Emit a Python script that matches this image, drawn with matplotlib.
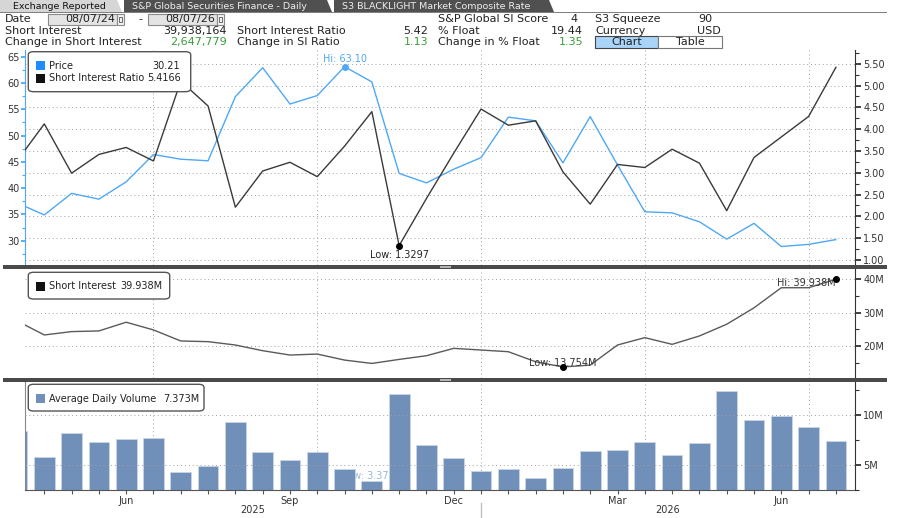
import numpy as np
import matplotlib
matplotlib.use("Agg")
import matplotlib.pyplot as plt
import matplotlib.transforms as mtransforms
from matplotlib.patches import Rectangle, FancyBboxPatch, Polygon

# ---------------- DATA ----------------
# semi-monthly observations, index -1 .. 29 (first one is partly off-chart)
obs_idx = list(range(-1, 30))

price = [37.2, 34.9, 39.0, 37.9, 41.2, 46.4, 45.5, 45.2, 57.4, 62.9, 56.0,
         57.6, 63.1, 60.2, 42.8, 41.0, 43.6, 45.8, 53.5, 52.8, 44.8, 53.6,
         44.4, 35.5, 35.3, 33.6, 30.3, 33.3, 28.9, 29.3, 30.21]

si_ratio = [3.27, 4.12, 2.99, 3.42, 3.58, 3.27, 5.10, 4.53, 2.21, 3.04, 3.24,
            2.91, 3.61, 4.40, 1.3297, 2.41, 3.45, 4.46, 4.09, 4.19, 3.02, 2.28,
            3.19, 3.12, 3.54, 3.22, 2.13, 3.35, 3.82, 4.29, 5.4166]

short_interest = [27.5, 23.3, 24.3, 24.5, 27.1, 24.8, 21.5, 21.3, 20.3, 18.6,
                  17.3, 17.6, 15.8, 14.8, 16.0, 17.1, 19.3, 18.8, 18.3, 15.3,
                  13.754, 14.3, 20.3, 22.5, 20.5, 23.0, 26.5, 31.4, 37.4, 37.4,
                  39.938]

avg_volume = [8.35, 5.79, 8.19, 7.27, 7.53, 7.70, 4.30, 4.84, 9.28, 6.28, 5.49,
              6.28, 4.60, 3.37, 12.1, 7.01, 5.63, 4.34, 4.57, 3.65, 4.64, 6.38,
              6.51, 7.27, 5.95, 7.20, 12.37, 9.47, 9.93, 8.79, 7.373]

month_labels = ["Jun", "Sep", "Dec", "Mar", "Jun"]
month_pos = [3, 9, 15, 21, 27]
quarter_pos = [4, 10, 16, 22, 28]
year_labels = ["2025", "2026"]
year_break = 16

header_rows = [
    [("Short Interest", "39,938,164", False), ("Short Interest Ratio", "5.42", False),
     ("% Float", "19.44", False), ("Currency", "USD", False)],
    [("Change in Short Interest", "2,647,779", True), ("Change in SI Ratio", "1.13", True),
     ("Change in % Float", "1.35", True)],
]
# --------------------------------------

W, H = 900, 518
BLUE = "#4ea8f7"
BLUE_SQ = "#1e8cff"
DARK = "#333333"
BAR = "#7190b9"
GREEN = "#3a9d3a"
GRID = "#a0a0a0"
FS = 7
HFS = 8

x = np.array(obs_idx)
XLIM = (-0.707, 29.7)


def fx(px):
    return px / W


def fy(py):
    return 1 - py / H


def ftext(px, py, s, **kw):
    kw.setdefault("va", "center")
    kw.setdefault("fontsize", HFS)
    kw.setdefault("color", "#222222")
    return fig.text(fx(px), fy(py), s, **kw)


def frect(x0, y0, x1, y1, **kw):
    r = Rectangle((fx(x0), fy(y1)), (x1 - x0) / W, (y1 - y0) / H,
                  transform=fig.transFigure, **kw)
    fig.patches.append(r)
    return r


def add_ax(y0, y1):
    return fig.add_axes([fx(25), fy(y1), (855 - 25) / W, (y1 - y0) / H])


def style_panel(ax, left_color="#888888"):
    ax.set_xlim(*XLIM)
    ax.spines["top"].set_visible(False)
    ax.spines["bottom"].set_visible(False)
    ax.spines["right"].set_visible(False)
    ax.spines["left"].set_color(left_color)
    ax.set_facecolor("none")
    for q in quarter_pos:
        ax.axvline(q, color=GRID, lw=0.7, ls=(0, (1, 3)), zorder=0)


def style_right(ax, major, minor, fmt):
    ax.yaxis.tick_right()
    ax.spines["right"].set_visible(True)
    ax.spines["right"].set_color(DARK)
    ax.spines["left"].set_visible(False)
    ax.spines["top"].set_visible(False)
    ax.spines["bottom"].set_visible(False)
    ax.set_yticks(major)
    ax.set_yticklabels([fmt(v) for v in major])
    ax.set_yticks(minor, minor=True)
    ax.tick_params(axis="y", which="both", left=False, labelleft=False,
                   right=True, labelright=True)
    ax.tick_params(axis="y", which="major", length=4, width=1.3, colors=DARK,
                   labelsize=FS, pad=2, labelcolor=DARK)
    ax.tick_params(axis="y", which="minor", length=3, width=0.8, colors=DARK)
    ax.grid(axis="y", which="major", color=GRID, lw=0.7, ls=(0, (1, 3)))
    ax.set_axisbelow(True)


def legend_box(x0, y0, x1, y1):
    box = FancyBboxPatch((fx(x0), fy(y1)), (x1 - x0) / W, (y1 - y0) / H,
                         boxstyle="round,pad=0,rounding_size=0.006",
                         transform=fig.transFigure, facecolor="white",
                         edgecolor="#555555", lw=1.0, zorder=5)
    fig.patches.append(box)


def legend_item(py, color, label, value, vx):
    frect(36, py - 4.5, 45, py + 4.5, facecolor=color, edgecolor="none", zorder=6)
    ftext(49, py, label, fontsize=FS, color="#222222", zorder=7)
    ftext(vx, py, value, fontsize=FS, color="#222222", zorder=7)


fig = plt.figure(figsize=(W / 100, H / 100), dpi=100)
fig.patch.set_facecolor("white")

# ---------------- top panel: price + SI ratio ----------------
ax_p = add_ax(50, 265)
style_panel(ax_p, left_color=BLUE)
ax_p.set_ylim(25.38, 66.27)
ax_p.plot(x, price, color=BLUE, lw=1.0, zorder=3)
i_hi = int(np.argmax(price))
ax_p.plot(x[i_hi], price[i_hi], "o", ms=4, color=BLUE, zorder=4)
ax_p.annotate(f"Hi: {price[i_hi]:.2f}", (x[i_hi], price[i_hi]),
              xytext=(0, 8), textcoords="offset pixels", ha="center",
              va="center", fontsize=FS, color=BLUE)

ax_r = ax_p.twinx()
ax_r.set_xlim(*XLIM)
ax_r.set_ylim(0.885, 5.814)
style_right(ax_r, np.arange(1.0, 5.51, 0.5), np.arange(1.25, 5.8, 0.5),
            lambda v: f"{v:.2f}")
ax_r.plot(x, si_ratio, color="#3a3a3a", lw=1.0, zorder=3)
i_lo = int(np.argmin(si_ratio))
ax_r.plot(x[i_lo], si_ratio[i_lo], "o", ms=4, color="black", zorder=4)
ax_r.annotate(f"Low: {si_ratio[i_lo]:.4f}", (x[i_lo], si_ratio[i_lo]),
              xytext=(0, -9), textcoords="offset pixels", ha="center",
              va="center", fontsize=FS, color="#222222")

# left price axis (after twinx, which resets tick sides)
ax_p.set_yticks(np.arange(30, 66, 5))
ax_p.set_yticks(np.arange(27.5, 66, 2.5), minor=True)
ax_p.tick_params(axis="y", which="both", left=True, labelleft=True,
                 right=False, labelright=False)
ax_p.tick_params(axis="y", which="major", length=3, width=1.3, colors=BLUE,
                 labelsize=FS, labelcolor=DARK, pad=1)
ax_p.tick_params(axis="y", which="minor", length=2, width=0.8, colors=BLUE)
ax_p.tick_params(axis="x", bottom=False, labelbottom=False)

# ---------------- middle panel: short interest ----------------
ax_s = add_ax(269, 378)
style_panel(ax_s)
ax_s.set_ylim(10.45, 42.99)
style_right(ax_s, [20, 30, 40], [15, 25, 35], lambda v: f"{v:.0f}M")
ax_s.tick_params(axis="x", bottom=False, labelbottom=False)
ax_s.plot(x, short_interest, color="#5a5a5a", lw=1.0, zorder=3)
s_hi = int(np.argmax(short_interest))
s_lo = int(np.argmin(short_interest))
ax_s.plot([x[s_hi], x[s_lo]], [short_interest[s_hi], short_interest[s_lo]],
          "o", ms=4, color="black", zorder=4)
ax_s.annotate(f"Hi: {short_interest[s_hi]:.3f}M", (x[s_hi], short_interest[s_hi]),
              xytext=(0, -4), textcoords="offset pixels", ha="right",
              va="center", fontsize=FS, color="#333333")
ax_s.annotate(f"Low: {short_interest[s_lo]:.3f}M", (x[s_lo], short_interest[s_lo]),
              xytext=(0, 4), textcoords="offset pixels", ha="center",
              va="center", fontsize=FS, color="#333333")

# ---------------- bottom panel: average daily volume ----------------
ax_v = add_ax(382, 490)
style_panel(ax_v)
ax_v.spines["bottom"].set_visible(True)
ax_v.spines["bottom"].set_color("#555555")
ax_v.set_ylim(2.45, 13.3)
ax_v.bar(x, avg_volume, width=0.76, color=BAR, edgecolor="#c9d6e8", lw=0.6,
         zorder=2)
v_lo = int(np.argmin(avg_volume))
ax_v.annotate(f"Low: {avg_volume[v_lo]:.2f}", (x[v_lo], avg_volume[v_lo]),
              xytext=(17, 5), textcoords="offset pixels", ha="right",
              va="center", fontsize=FS, color="#9db6da", zorder=1.5)
ax_v.set_xticks(month_pos)
ax_v.set_xticklabels(month_labels)
ax_v.set_xticks(x, minor=True)
ax_v.tick_params(axis="x", which="both", length=3, width=0.8, colors="#555555",
                 labelsize=FS, labelcolor=DARK, pad=1)
ax_v2 = ax_v.twinx()
ax_v2.set_xlim(*XLIM)
ax_v2.set_ylim(2.45, 13.3)
style_right(ax_v2, [5, 10], [2.5, 7.5, 12.5], lambda v: f"{v:.0f}M")
ax_v.tick_params(axis="y", which="both", left=False, labelleft=False)

trans = mtransforms.blended_transform_factory(ax_v.transData, ax_v.transAxes)
ax_v.plot([year_break, year_break], [-0.12, -0.27], transform=trans,
          color="#c0c0c0", lw=1.0, clip_on=False)
year_centers = [(XLIM[0] + year_break) / 2, (year_break + XLIM[1]) / 2]
for yc, yl in zip(year_centers, year_labels):
    ax_v.text(yc, -0.185, yl, transform=trans, ha="center", va="center",
              fontsize=FS, color=DARK)

# ---------------- panel splitters ----------------
for y0 in (265, 378):
    frect(3, y0, 887, y0 + 4, facecolor="#4a4a4a", edgecolor="none", zorder=2)
    frect(440, y0 + 1, 451, y0 + 3, facecolor="#b5b5b5", edgecolor="none", zorder=2)

# ---------------- legends ----------------
legend_box(28.3, 51.7, 190.7, 91.7)
legend_item(65.7, BLUE_SQ, "Price", f"{price[-1]:.2f}", 152)
legend_item(78.3, "#111111", "Short Interest Ratio", f"{si_ratio[-1]:.4f}", 146.7)

legend_box(28.3, 272.3, 169.7, 299)
legend_item(286, "#111111", "Short Interest", f"{short_interest[-1]:.3f}M", 120)

legend_box(28.3, 384.3, 204, 411)
legend_item(398.5, BAR, "Average Daily Volume", f"{avg_volume[-1]:.3f}M", 163.3)

# ---------------- header ----------------
tabs = [(0, 122, "Exchange Reported", "#d6d6d6", "#111111", 13),
        (124, 332, "S&P Global Securities Finance - Daily", "#505050", "#eeeeee", 132),
        (334, 554, "S3 BLACKLIGHT Market Composite Rate", "#505050", "#eeeeee", 342)]
for t0, t1, label, bg, fg, tx in tabs:
    poly = Polygon([(fx(t0), fy(0)), (fx(t1 - 5), fy(0)), (fx(t1), fy(12)),
                    (fx(t0), fy(12))], closed=True, transform=fig.transFigure,
                   facecolor=bg, edgecolor="none")
    fig.patches.append(poly)
    ftext(tx, 6.5, label, fontsize=6.8, color=fg)
frect(0, 12, 887, 13.3, facecolor="#808080", edgecolor="none")

ftext(5, 19, "Date")
for b0, b1, d in [(48, 117, "08/07/24"), (148, 217, "08/07/26")]:
    frect(b0, 13.8, b1, 24.5, facecolor="#e4e4e4", edgecolor="#8a8a8a", lw=0.8)
    ftext(b1 - 2, 19, d, ha="right")
    frect(b1, 13.8, b1 + 7, 24.5, facecolor="#f2f2f2", edgecolor="#8a8a8a", lw=0.8)
    frect(b1 + 1.8, 16.5, b1 + 5.2, 21.8, facecolor="none", edgecolor="#555555", lw=0.6)
ftext(138, 19, "-")

ftext(438, 19, "S&P Global SI Score")
ftext(578, 19, "4", ha="right")
ftext(595, 19, "S3 Squeeze")
ftext(712.7, 19, "90", ha="right")

label_x = [5, 237, 438, 595]
value_x = [227, 428, 583, 720.7]
for row_y, row in zip([30.7, 42], header_rows):
    for (lab, val, green), lx, vx in zip(row, label_x, value_x):
        ftext(lx, row_y, lab)
        ftext(vx, row_y, val, ha="right", color=GREEN if green else "#222222")

frect(595, 36, 658, 48, facecolor="#a9d4f7", edgecolor="#444444", lw=0.8)
ftext(626.5, 42, "Chart", ha="center")
frect(658, 36, 722, 48, facecolor="white", edgecolor="#777777", lw=0.8)
ftext(690, 42, "Table", ha="center")

fig.savefig("out.png", dpi=100, facecolor="white")
